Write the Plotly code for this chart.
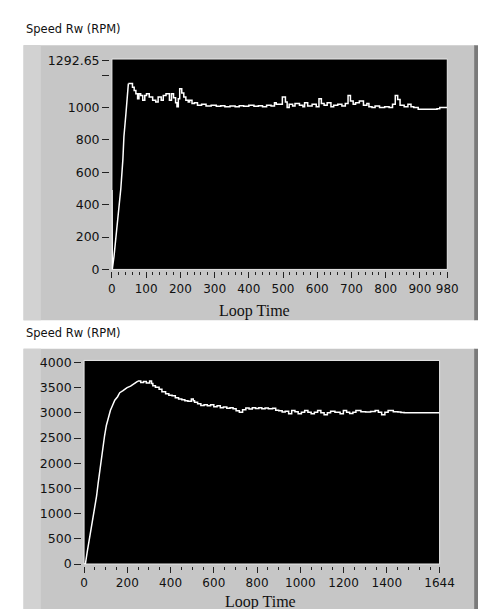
import plotly.graph_objects as go

W, H = 486, 609

# ---------------- data ----------------
top_time = [0, 1, 6, 11, 20, 26, 32, 35, 41, 45, 48, 60, 65, 70, 75, 79, 84, 90, 96, 101,
            109, 119, 128, 135, 144, 150, 158, 168, 174, 180, 186, 190, 194, 198, 204, 210,
            216, 223, 227, 234, 241, 250, 262, 275, 290, 305, 318, 330, 345, 360, 372, 385,
            400, 415, 428, 440, 452, 465, 475, 480, 498, 507, 512, 518, 528, 535, 548, 558,
            563, 572, 585, 597, 605, 612, 620, 629, 640, 648, 660, 672, 682, 690, 697, 705,
            712, 723, 735, 745, 751, 760, 769, 782, 797, 810, 820, 828, 835, 842, 854, 865,
            874, 882, 895, 950, 958, 980]
top_rpm = [490, 0, 80, 180, 380, 500, 680, 820, 965, 1085, 1148, 1126, 1106, 1086, 1055, 1086,
           1075, 1045, 1075, 1086, 1065, 1045, 1035, 1065, 1045, 1075, 1086, 1045, 1086, 1060,
           1030, 1005, 1055, 1116, 1090, 1065, 1045, 1035, 1045, 1025, 1030, 1015, 1020, 1010,
           1015, 1008, 1012, 1005, 1010, 1005, 1012, 1008, 1015, 1008, 1012, 1005, 1015, 1010,
           1030, 1020, 1065, 1035, 1000, 1020, 1010, 1025, 1015, 1005, 1030, 1010, 1020, 1005,
           1055, 1025, 1015, 1030, 1005, 1015, 1020, 1010, 1025, 1075, 1040, 1020, 1030, 1040,
           1015, 1025, 1005, 1000, 1010, 1000, 1005, 1000, 1020, 1075, 1050, 1015, 1005, 1020,
           1005, 1000, 990, 992, 1000, 1000]

bot_time = [0, 6, 15, 25, 35, 45, 50, 58, 65, 72, 80, 88, 95, 103, 112, 122, 132, 142, 155,
            165, 180, 199, 215, 229, 240, 249, 262, 275, 288, 303, 312, 318, 330, 347, 360,
            377, 392, 407, 422, 437, 452, 466, 480, 496, 505, 511, 525, 540, 555, 570, 585,
            600, 615, 630, 644, 660, 675, 689, 703, 718, 733, 748, 763, 778, 793, 808, 822,
            837, 852, 872, 886, 900, 916, 930, 946, 960, 975, 990, 1005, 1020, 1035, 1050,
            1065, 1080, 1095, 1110, 1125, 1140, 1160, 1184, 1199, 1214, 1228, 1243, 1257,
            1280, 1302, 1325, 1346, 1361, 1376, 1391, 1406, 1430, 1451, 1465, 1480, 1644]
bot_rpm = [0, 0, 250, 500, 800, 1050, 1200, 1350, 1600, 1850, 2100, 2350, 2550, 2750, 2900,
           3050, 3150, 3250, 3320, 3400, 3440, 3500, 3530, 3565, 3600, 3630, 3600, 3620, 3590,
           3630, 3580, 3540, 3510, 3470, 3420, 3380, 3350, 3340, 3300, 3275, 3260, 3240, 3230,
           3275, 3240, 3210, 3180, 3145, 3160, 3140, 3160, 3120, 3140, 3100, 3115, 3090, 3100,
           3080, 3040, 3010, 3060, 3095, 3075, 3100, 3085, 3100, 3080, 3095, 3080, 3090, 3050,
           3040, 3015, 3030, 2980, 3045, 3020, 2980, 3010, 3045, 3010, 2980, 3010, 3045, 3000,
           2960, 3000, 3030, 3010, 2980, 3045, 3010, 2985, 3010, 3045, 3020, 3015, 3025, 3045,
           3010, 2960, 3010, 3045, 3020, 3015, 3005, 3000, 3000]

# number of leading samples belonging to the smooth run-up of each record
top_rise_n = 11
bot_rise_n = 26

top_xticks = [0, 100, 200, 300, 400, 500, 600, 700, 800, 900, 980]
top_yticks = [0, 200, 400, 600, 800, 1000, 1200, 1292.65]
top_ylabels = ["0", "200", "400", "600", "800", "1000", "", "1292.65"]
bot_xticks = [0, 200, 400, 600, 800, 1000, 1200, 1400, 1644]
bot_yticks = [0, 500, 1000, 1500, 2000, 2500, 3000, 3500, 4000]

title_text = "Speed Rw (RPM)"
x_title = "Loop Time"

# ---------------- helpers ----------------
def px(x):
    return x / W

def py(y):
    return 1 - y / H

fig = go.Figure()
line_style = dict(color="white", width=1.5)
for t, v, n, xa, ya in [(top_time, top_rpm, top_rise_n, "x", "y"),
                        (bot_time, bot_rpm, bot_rise_n, "x2", "y2")]:
    fig.add_trace(go.Scatter(x=t[:n], y=v[:n], mode="lines", line_shape="linear",
                             line=line_style, xaxis=xa, yaxis=ya,
                             showlegend=False, hoverinfo="skip"))
    fig.add_trace(go.Scatter(x=t[n - 1:], y=v[n - 1:], mode="lines", line_shape="hv",
                             line=line_style, xaxis=xa, yaxis=ya,
                             showlegend=False, hoverinfo="skip"))

tickfont = dict(family="DejaVu Sans", size=12, color="#111111")
yfont = dict(family="DejaVu Sans", size=12.5, color="#111111")

fig.update_layout(
    width=W, height=H,
    margin=dict(l=0, r=0, t=0, b=0),
    paper_bgcolor="white",
    plot_bgcolor="black",
    xaxis=dict(domain=[px(104), px(453)], range=[0, 980], anchor="free",
               position=py(263), tickmode="array", tickvals=top_xticks,
               ticks="outside", ticklen=6, tickwidth=1, tickcolor="#222",
               tickfont=tickfont, showgrid=False, zeroline=False, showline=False,
               minor=dict(dtick=20, tick0=0, ticks="outside", ticklen=3,
                          tickcolor="#222", showgrid=False)),
    yaxis=dict(domain=[py(261), py(46)], range=[0, 1300], anchor="free",
               position=px(101), tickmode="array", tickvals=top_yticks,
               ticktext=top_ylabels, ticks="outside", ticklen=7, tickwidth=1,
               tickcolor="#222", tickfont=yfont, showgrid=False, zeroline=False,
               showline=False),
    xaxis2=dict(domain=[px(75), px(445)], range=[0, 1644], anchor="free",
                position=py(564), tickmode="array", tickvals=bot_xticks,
                ticks="outside", ticklen=6, tickwidth=1, tickcolor="#222",
                tickfont=tickfont, showgrid=False, zeroline=False, showline=False,
                minor=dict(dtick=50, tick0=0, ticks="outside", ticklen=3,
                           tickcolor="#222", showgrid=False)),
    yaxis2=dict(domain=[py(562), py(354)], range=[0, 4040], anchor="free",
                position=px(72), tickmode="array", tickvals=bot_yticks,
                ticks="outside", ticklen=7, tickwidth=1, tickcolor="#222",
                tickfont=yfont, showgrid=False, zeroline=False, showline=False),
)

shapes = []
# gray panels
for (y0, y1) in [(32, 313), (342, 609)]:
    shapes.append(dict(type="rect", xref="paper", yref="paper", x0=px(12), x1=px(482),
                       y0=py(y1), y1=py(y0), fillcolor="#c6c6c6", line=dict(width=0),
                       layer="below"))
    shapes.append(dict(type="rect", xref="paper", yref="paper", x0=px(12), x1=px(30),
                       y0=py(y1), y1=py(y0), fillcolor="#d2d2d2", line=dict(width=0),
                       layer="below"))
    shapes.append(dict(type="rect", xref="paper", yref="paper", x0=px(481), x1=px(486),
                       y0=py(y1), y1=py(y0), fillcolor="#7a7a7a", line=dict(width=0),
                       layer="below"))
# black plot areas (drawn over the panels, under the traces) with light border
shapes.append(dict(type="rect", xref="x domain", yref="y domain", x0=0, x1=1, y0=0, y1=1,
                   fillcolor="black", line=dict(color="#e8e8e8", width=1), layer="below"))
shapes.append(dict(type="rect", xref="x2 domain", yref="y2 domain", x0=0, x1=1, y0=0, y1=1,
                   fillcolor="black", line=dict(color="#e8e8e8", width=1), layer="below"))
fig.update_layout(shapes=shapes)

ann = []
for yy in (15, 326):
    ann.append(dict(text=title_text, xref="paper", yref="paper", x=px(12), y=py(yy),
                    xanchor="left", yanchor="middle", showarrow=False,
                    font=dict(family="DejaVu Sans", size=11.5, color="#111111")))
ann.append(dict(text=x_title, xref="paper", yref="paper", x=px(252), y=py(303),
                xanchor="center", yanchor="middle", showarrow=False,
                font=dict(family="Liberation Serif", size=16, color="#111111")))
ann.append(dict(text=x_title, xref="paper", yref="paper", x=px(259), y=py(601),
                xanchor="center", yanchor="middle", showarrow=False,
                font=dict(family="Liberation Serif", size=16, color="#111111")))
fig.update_layout(annotations=ann)

fig.write_html("out.html")
